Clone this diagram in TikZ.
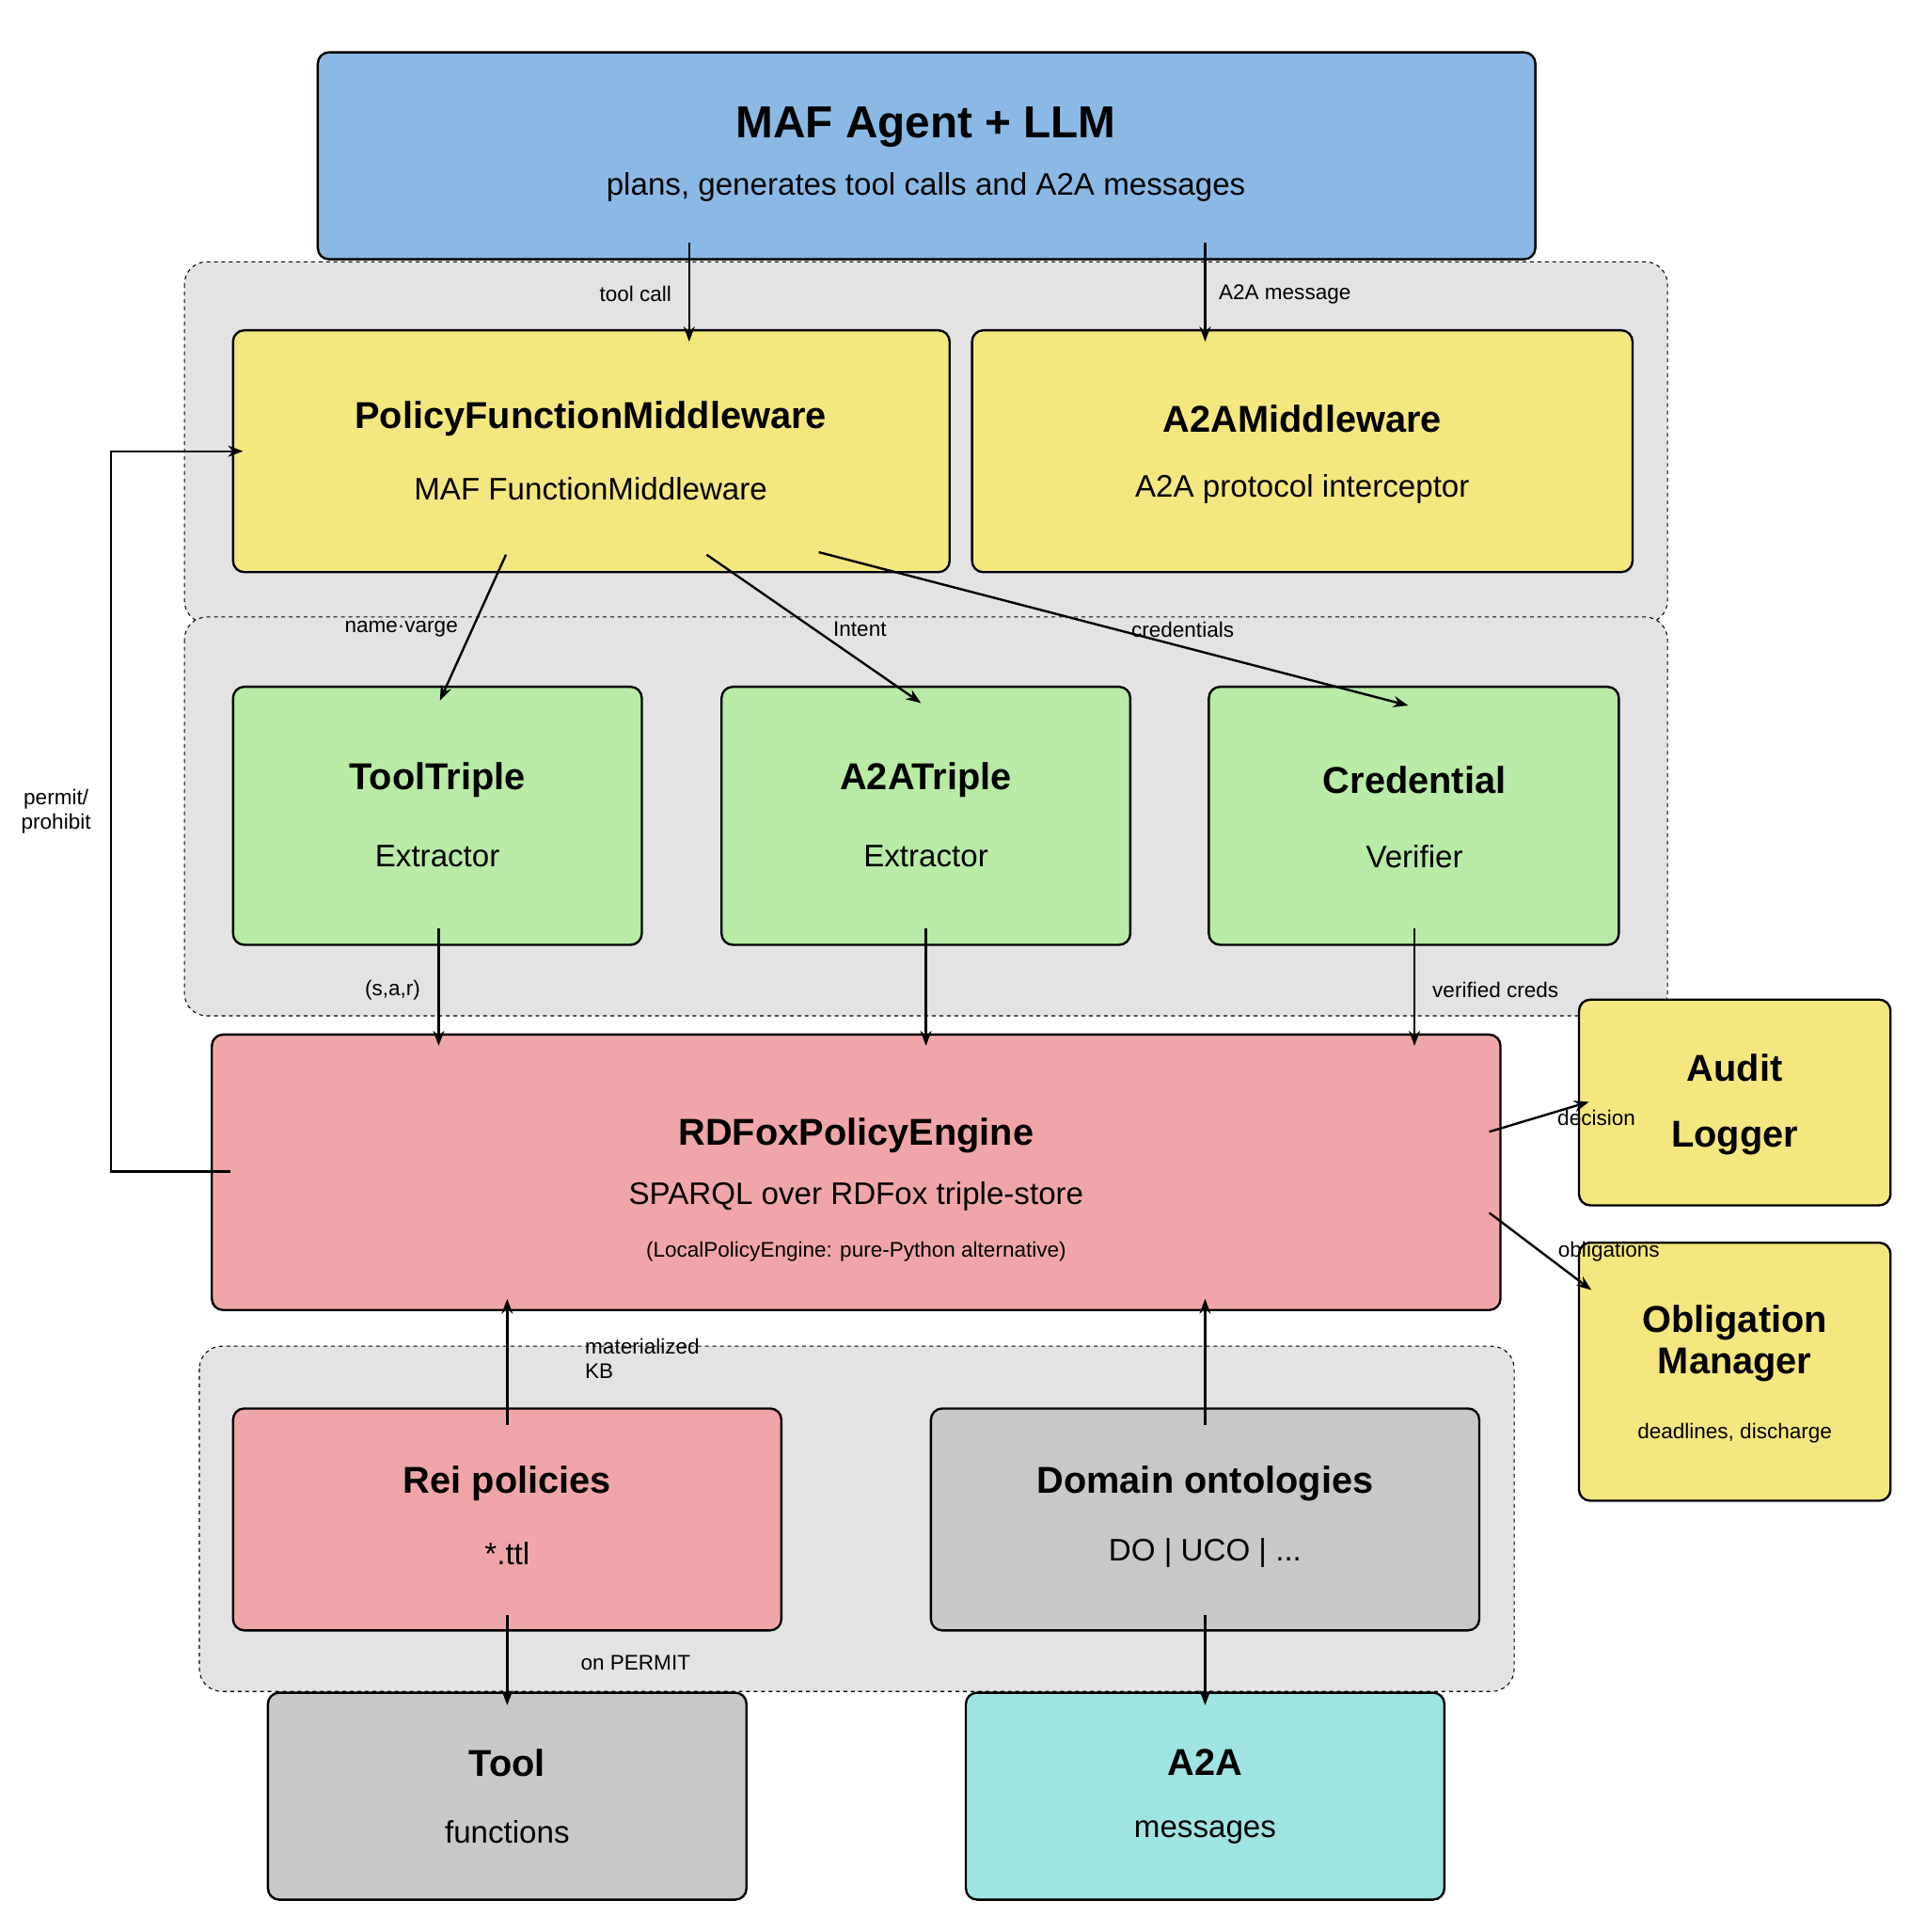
\documentclass[tikz,border=0pt]{standalone}
\usepackage{fontspec}
\setmainfont{Liberation Sans}
\usetikzlibrary{arrows.meta}
\definecolor{cblue}{HTML}{8AB9E6}
\definecolor{cyel}{HTML}{F5E77F}
\definecolor{cgreen}{HTML}{B8EBA5}
\definecolor{cpink}{HTML}{F0A6A8}
\definecolor{cgray}{HTML}{C8C8C8}
\definecolor{ccyan}{HTML}{A0E3E3}
\definecolor{cgrp}{HTML}{E3E3E3}
\begin{document}
\begin{tikzpicture}[x=1pt,y=-1pt,
 box/.style={draw=black,line width=1.8pt,rounded corners=9pt},
 grp/.style={draw=black,dashed,line width=0.8pt,fill=cgrp,rounded corners=18pt},
 ttl/.style={font=\fontsize{30}{34}\selectfont\bfseries,align=center},
 sub/.style={font=\fontsize{25}{29}\selectfont,align=center},
 lab/.style={font=\fontsize{17}{20}\selectfont,align=left},
 arr/.style={-{Stealth[length=12pt,width=9pt]},line width=1.8pt}]
\useasboundingbox (0,0) rectangle (1545,1550);
\fill[white] (0,0) rectangle (1545,1550);
% groups
\draw[grp] (148,210) rectangle (1338,500);
\draw[grp] (148,495) rectangle (1338,815);
\draw[grp] (160,1080) rectangle (1215,1357);
% boxes
\draw[box,fill=cblue] (255,42) rectangle (1232,208);
\node[ttl,font=\fontsize{36}{40}\selectfont\bfseries] (maft) at (743,102) {MAF Agent + LLM};
\node[sub] (mafs) at (743,150) {plans, generates tool calls and A2A messages};
\draw[box,fill=cyel] (187,265) rectangle (762,459);
\node[ttl] (pfm) at (474,336) {PolicyFunctionMiddleware};
\node[sub] (pfms) at (474,392) {MAF FunctionMiddleware};
\draw[box,fill=cyel] (780,265) rectangle (1310,459);
\node[ttl] (a2am) at (1045,336) {A2AMiddleware};
\node[sub] (a2ams) at (1045,392) {A2A protocol interceptor};
\draw[box,fill=cgreen] (187,551) rectangle (515,758);
\node[ttl] (tt) at (351,626) {ToolTriple};
\node[sub] (tts) at (351,687) {Extractor};
\draw[box,fill=cgreen] (579,551) rectangle (907,758);
\node[ttl] (at) at (743,626) {A2ATriple};
\node[sub] (ats) at (743,687) {Extractor};
\draw[box,fill=cgreen] (970,551) rectangle (1299,758);
\node[ttl] (cv) at (1135,626) {Credential};
\node[sub] (cvs) at (1135,687) {Verifier};
\draw[box,fill=cpink] (170,830) rectangle (1204,1051);
\node[ttl] (rdf) at (687,911) {RDFoxPolicyEngine};
\node[sub] (rdfs) at (687,960) {SPARQL over RDFox triple-store};
\node[lab] (rdfa) at (687,1004) {(LocalPolicyEngine: pure-Python alternative)};
\draw[box,fill=cyel] (1267,802) rectangle (1517,967);
\node[ttl] (aud) at (1392,857) {Audit};
\node[ttl] (audl) at (1392,913) {Logger};
\draw[box,fill=cyel] (1267,997) rectangle (1517,1204);
\node[ttl,font=\fontsize{30}{33}\selectfont\bfseries] (obl) at (1392,1078) {Obligation\\Manager};
\node[lab] (obls) at (1392,1150) {deadlines, discharge};
\draw[box,fill=cpink] (187,1130) rectangle (627,1308);
\node[ttl] (rei) at (407,1190) {Rei policies};
\node[sub] (reis) at (407,1246) {*.ttl};
\draw[box,fill=cgray] (747,1130) rectangle (1187,1308);
\node[ttl] (dom) at (967,1190) {Domain ontologies};
\node[sub] (doms) at (967,1246) {DO | UCO | ...};
\draw[box,fill=cgray] (215,1358) rectangle (599,1524);
\node[ttl] (tool) at (407,1414) {Tool};
\node[sub] (tools) at (407,1470) {functions};
\draw[box,fill=ccyan] (775,1358) rectangle (1159,1524);
\node[ttl] (a2a) at (967,1414) {A2A};
\node[sub] (a2as) at (967,1470) {messages};
% coordinates
\coordinate (m1) at (553,195); \coordinate (m1e) at (553,274);
\coordinate (m2) at (967,195); \coordinate (m2e) at (967,274);
\coordinate (p1) at (406,445); \coordinate (p1e) at (353,562);
\coordinate (p2) at (567,445); \coordinate (p2e) at (739,564);
\coordinate (p3) at (657,443); \coordinate (p3e) at (1130,566);
\coordinate (g1) at (352,745); \coordinate (g1e) at (352,839);
\coordinate (g2) at (743,745); \coordinate (g2e) at (743,839);
\coordinate (g3) at (1135,745); \coordinate (g3e) at (1135,839);
\coordinate (r1) at (1195,908); \coordinate (r1e) at (1275,884);
\coordinate (r2) at (1195,973); \coordinate (r2e) at (1277,1035);
\coordinate (f0) at (185,940); \coordinate (f1) at (89,940); \coordinate (f2) at (89,362); \coordinate (f3) at (195,362);
\coordinate (k1) at (407,1143); \coordinate (k1e) at (407,1042);
\coordinate (k2) at (967,1143); \coordinate (k2e) at (967,1042);
\coordinate (o1) at (407,1296); \coordinate (o1e) at (407,1368);
\coordinate (o2) at (967,1296); \coordinate (o2e) at (967,1368);
% arrows
\draw[arr] (m1) -- (m1e);
\draw[arr] (m2) -- (m2e);
\draw[arr] (p1) -- (p1e);
\draw[arr] (p2) -- (p2e);
\draw[arr] (p3) -- (p3e);
\draw[arr] (g1) -- (g1e);
\draw[arr] (g2) -- (g2e);
\draw[arr] (g3) -- (g3e);
\draw[arr] (r1) -- (r1e);
\draw[arr] (r2) -- (r2e);
\draw[arr] (f0) -- (f1) -- (f2) -- (f3);
\draw[arr] (k1) -- (k1e);
\draw[arr] (k2) -- (k2e);
\draw[arr] (o1) -- (o1e);
\draw[arr] (o2) -- (o2e);
% labels
\node[lab] (l1) at (510,236) {tool call};
\node[lab] (l2) at (1031,236) {A2A message};
\node[lab] (l3) at (322,505) {name·varge};
\node[lab] (l4) at (690,505) {Intent};
\node[lab] (l5) at (949,505) {credentials};
\node[lab] (l6) at (315,794) {(s,a,r)};
\node[lab] (l7) at (1200,794) {verified creds};
\node[lab] (l8) at (1281,897) {decision};
\node[lab] (l9) at (1291,1004) {obligations};
\node[lab,align=center] (l10) at (45,651) {permit/\\prohibit};
\node[lab,anchor=west] (l11) at (466,1090) {materialized\\KB};
\node[lab] (l12) at (510,1334) {on PERMIT};
\end{tikzpicture}
\end{document}
